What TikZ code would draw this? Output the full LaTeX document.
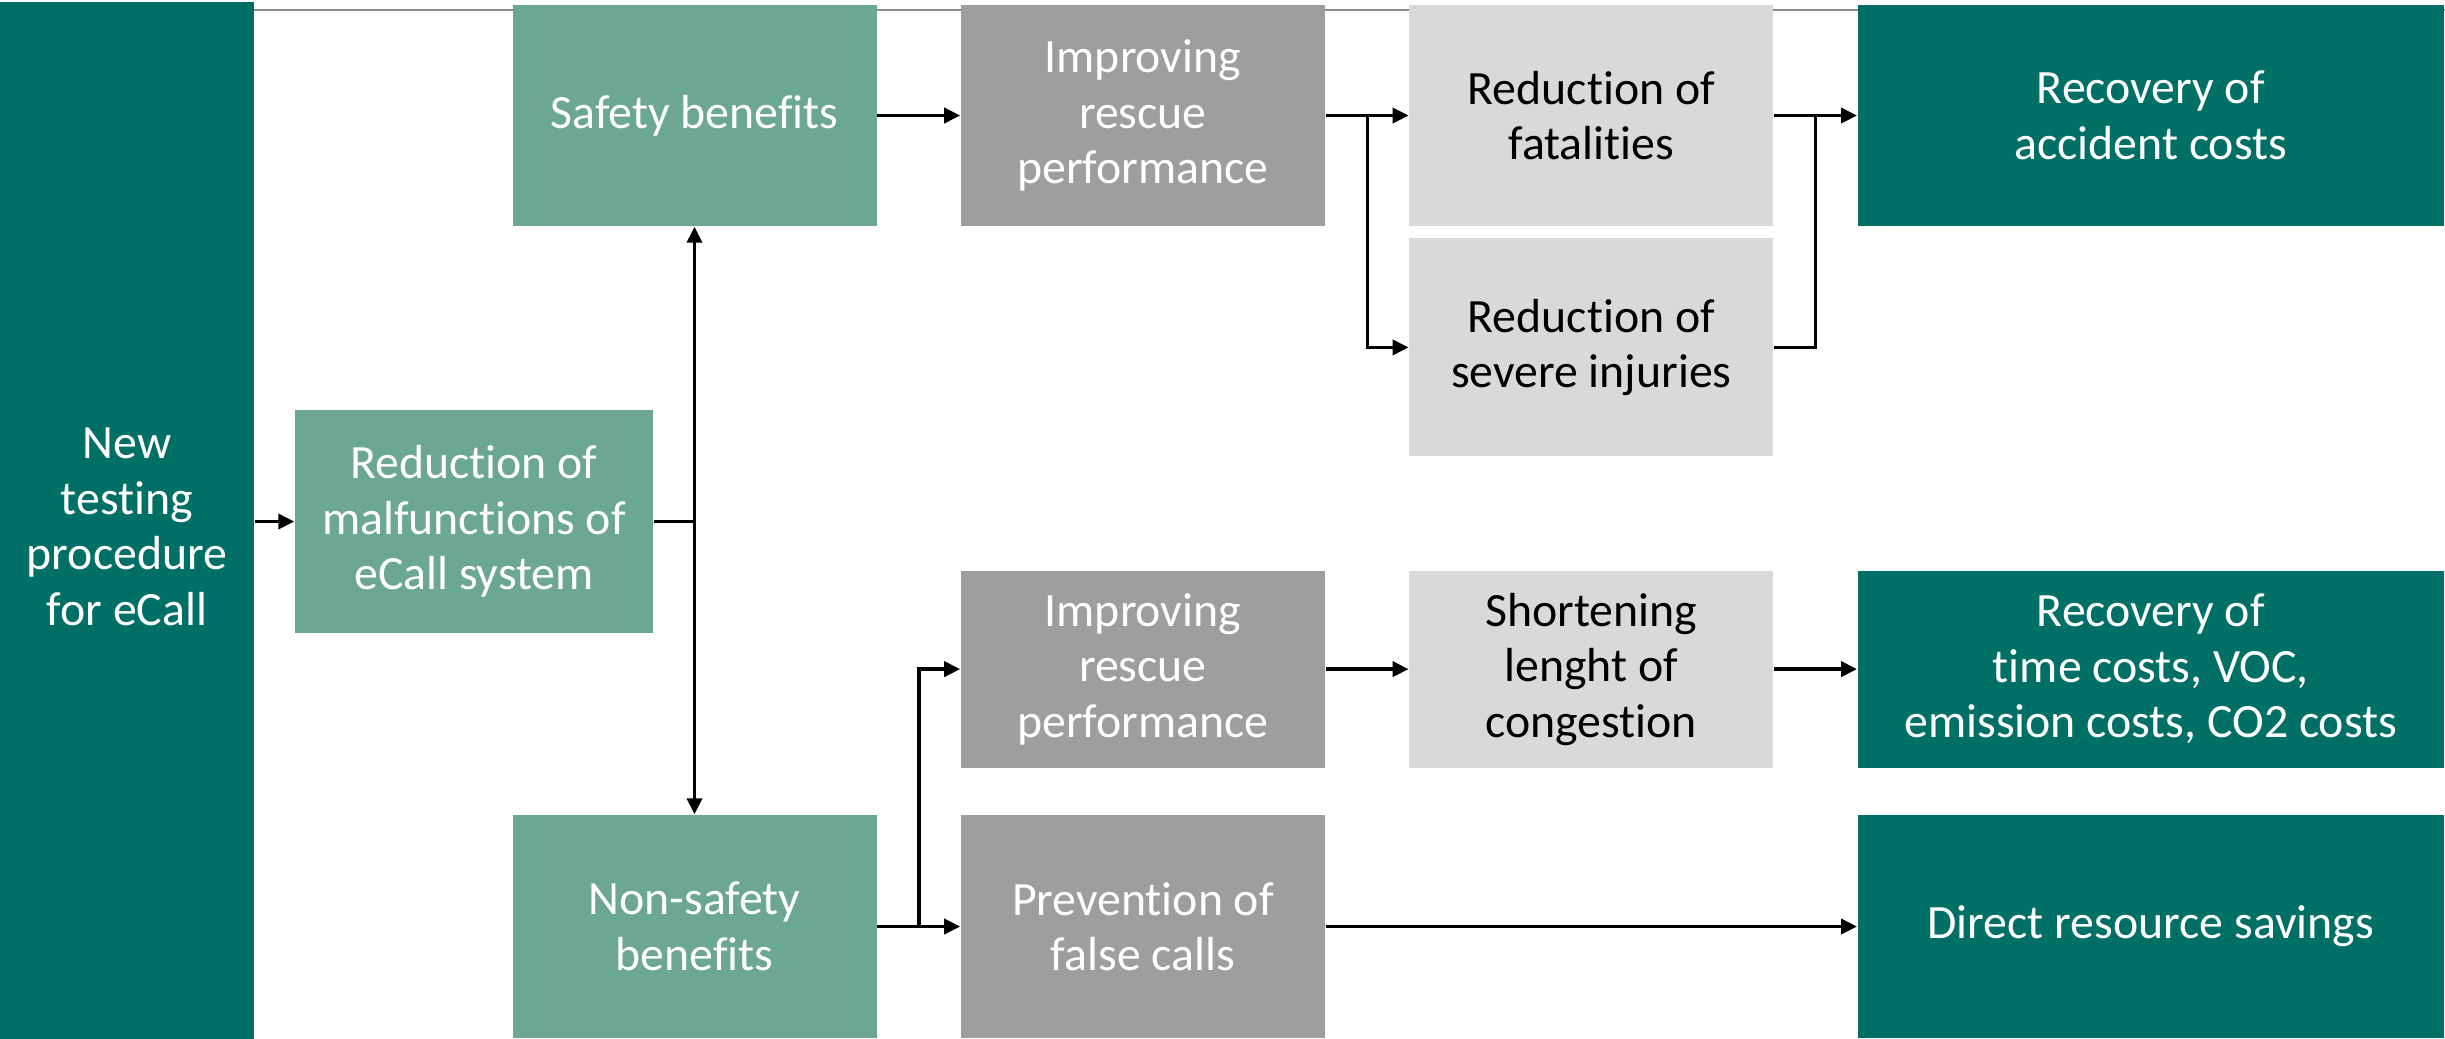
\documentclass[tikz,border=0pt]{standalone}
\usepackage{fontspec}
\setmainfont{Carlito}[Ligatures=NoCommon]
\usepackage{tikz}
\usetikzlibrary{arrows.meta, positioning}

\definecolor{tealdark}{HTML}{007067}
\definecolor{teallight}{HTML}{6BA794}
\definecolor{greymid}{HTML}{9E9E9D}
\definecolor{greylight}{HTML}{D9D9D9}

\begin{document}
\begin{tikzpicture}[
        box/.style={rectangle, inner sep=0pt, align=center, minimum width=3.64cm,
            font=\fontsize{13.6}{15.8}\selectfont},
        source/.style={box, fill=tealdark, text=white},
        benefit/.style={box, fill=teallight, text=white},
        effect/.style={box, fill=greymid, text=white},
        impact/.style={box, fill=greylight, text=black},
        result/.style={box, fill=tealdark, text=white, minimum width=5.86cm},
        line/.style={-, line width=1.05pt},
        tip/.style={-{Triangle[length=1.6mm, width=1.5mm]}},
        arr/.style={line, tip}
    ]
        \useasboundingbox (0,0) rectangle (24.45,-10.38);
        \draw[gray!90, line width=0.5pt] (2.54,-0.10) -- (24.45,-0.10);

        % Left column
        \node[source, minimum width=2.54cm, minimum height=10.5cm] (ntp) at (1.27,-5.27)
            {New\\testing\\procedure\\for eCall};
        \node[benefit, minimum width=3.58cm, minimum height=2.23cm] (rom) at (4.74,-5.215)
            {Reduction of\\malfunctions of\\eCall system};
        \node[benefit, minimum height=2.21cm] (sb) at (6.945,-1.155) {Safety benefits};
        \node[benefit, minimum height=2.23cm] (nsb) at (6.945,-9.265) {Non-safety\\benefits};

        % Safety branch
        \node[effect, minimum height=2.21cm, right=0.83cm of sb] (irp1) {Improving\\rescue\\performance};
        \node[impact, minimum height=2.21cm, right=0.83cm of irp1] (rof) {Reduction of\\fatalities};
        \node[impact, minimum height=2.18cm, below=0.11cm of rof] (rsi) {Reduction of\\severe injuries};
        \node[result, minimum height=2.21cm, right=0.83cm of rof] (rac) {Recovery of\\accident costs};

        % Non-safety branch
        \node[effect, minimum height=2.23cm, right=0.83cm of nsb] (pfc) {Prevention of\\false calls};
        \node[effect, minimum height=1.97cm, above=0.46cm of pfc] (irp2) {Improving\\rescue\\performance};
        \node[impact, minimum height=1.97cm, right=0.83cm of irp2] (slc) {Shortening\\lenght of\\congestion};
        \node[result, minimum height=1.97cm, right=0.83cm of slc] (rtc)
            {Recovery of\\time costs, VOC,\\emission costs, CO2 costs};
        \node[result, minimum height=2.23cm, below=0.46cm of rtc] (drs) {Direct resource savings};

        \draw[arr] (ntp.east |- rom.west) -- (rom.west);
        \draw[line] (rom.east) -- (rom.east -| sb.south);
        \draw[line, {Triangle[length=1.6mm, width=1.5mm]}-{Triangle[length=1.6mm, width=1.5mm]}] (sb.south) -- (nsb.north);

        \draw[arr] (sb) -- (irp1);
        \draw[arr] (irp1) -- (rof);
        \draw[arr] ([xshift=0.42cm]irp1.east) |- (rsi);
        \draw[arr] (rof) -- (rac);
        \draw[line] (rsi.east) -| ([xshift=-0.415cm]rac.west);

        \draw[arr] (nsb) -- (pfc);
        \draw[arr] ([xshift=0.415cm]nsb.east) |- (irp2);
        \draw[arr] (irp2) -- (slc);
        \draw[arr] (slc) -- (rtc);
        \draw[arr] (pfc) -- (drs);
    \end{tikzpicture}
\end{document}
